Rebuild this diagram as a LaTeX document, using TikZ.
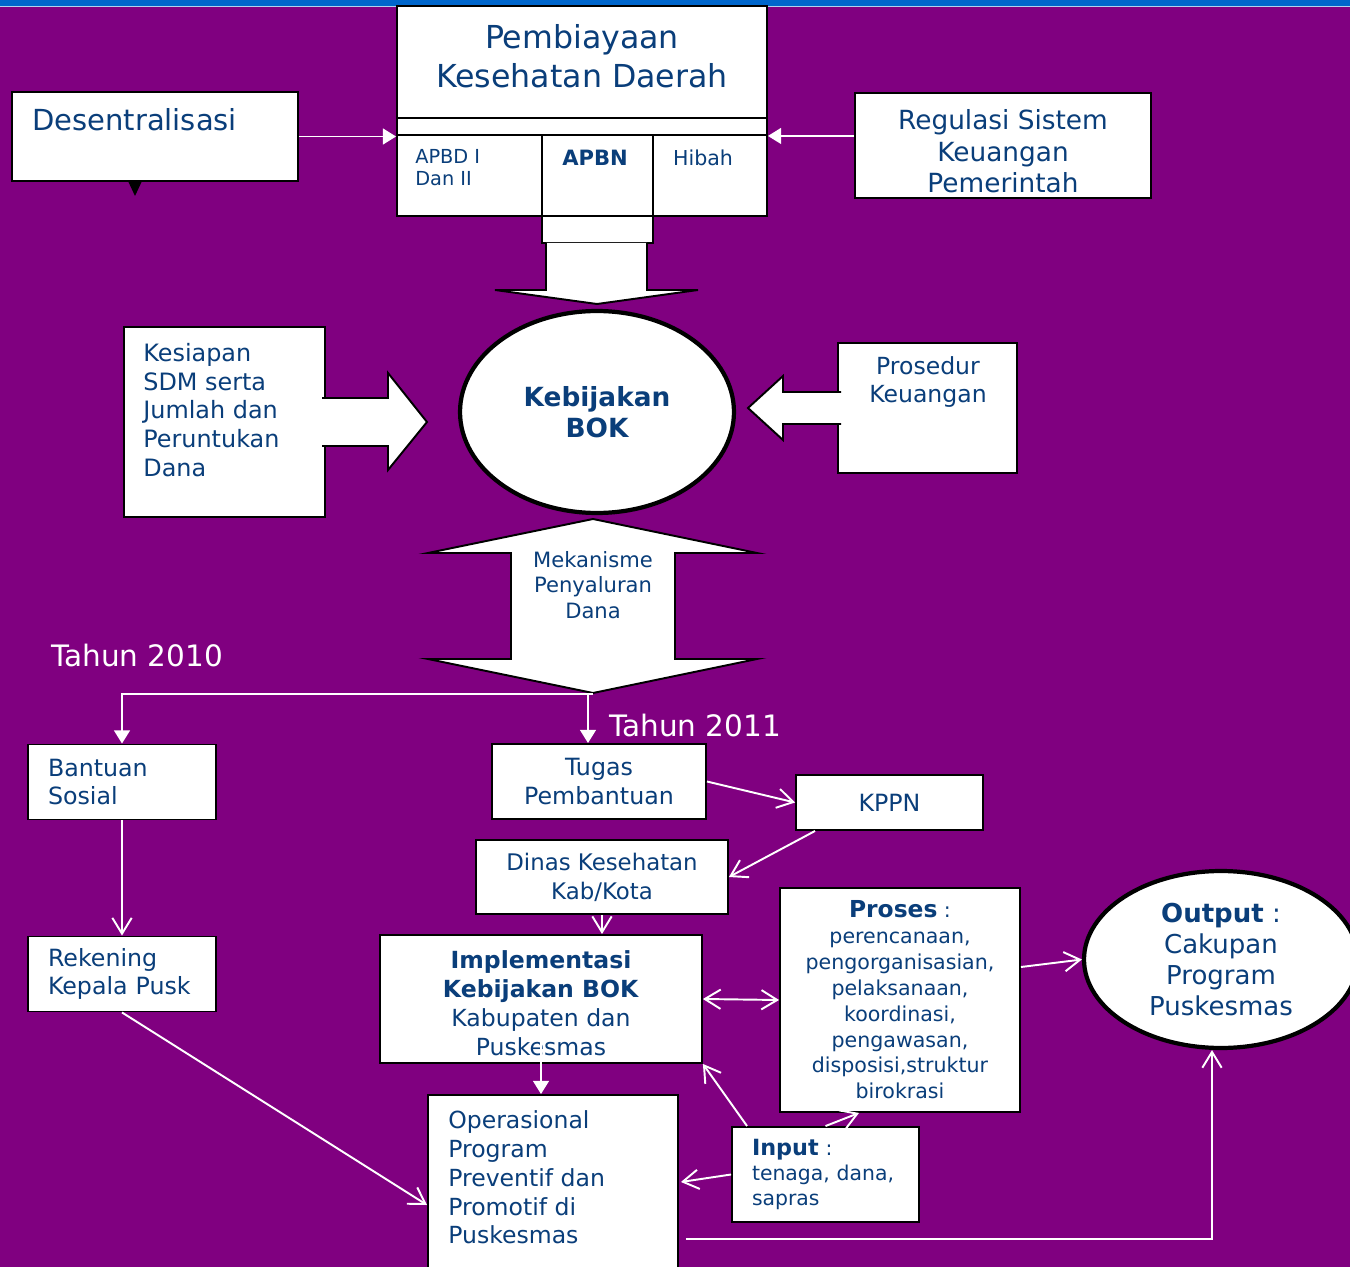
\documentclass[tikz,border=0pt]{standalone}
\usepackage{fontspec}
\setmainfont{DejaVu Sans}
\usetikzlibrary{shapes.geometric,arrows.meta,positioning,calc}
\definecolor{bgpurple}{RGB}{128,0,128}
\definecolor{topblue}{RGB}{0,102,204}
\definecolor{txtblue}{RGB}{10,62,122}
\newcommand{\setfs}[2]{\fontsize{#1}{#2}\selectfont}
\tikzset{
  box/.style={draw=black, fill=white, line width=1.1pt, rectangle, inner sep=0pt, text=txtblue, align=center},
  oval/.style={draw=black, fill=white, line width=2.4pt, ellipse, inner sep=0pt, text=txtblue, align=center},
  lbl/.style={inner sep=0pt, text=txtblue, align=center},
  blockarrow/.style={draw=black, fill=white, line width=1.1pt, line join=miter},
  wline/.style={draw=white, line width=1.1pt},
  tri/.style={-{Triangle[width=9pt,length=7.5pt]}},
  barb/.style={-{Straight Barb[width=11pt,length=9pt]}},
  barbs/.style={{Straight Barb[width=11pt,length=9pt]}-{Straight Barb[width=11pt,length=9pt]}},
}

\begin{document}
\begin{tikzpicture}[x=0.02cm, y=-0.02cm]
  \useasboundingbox (0,0) rectangle (1350,1267);
  \fill[bgpurple] (0,0) rectangle (1350,1267);
  \fill[topblue] (0,0) rectangle (1350,6);
  \draw[white!70!topblue, line width=0.6pt] (0,6.5) -- (1350,6.5);

  % sumber dana
  \node (pemb) [box, minimum width=7.4cm, minimum height=2.24cm] at (582,62) {};
  \node (pembT) [lbl, font=\setfs{18}{22}] at (582,56) {Pembiayaan\\Kesehatan Daerah};
  \node (strip) [box, minimum width=7.4cm, minimum height=0.34cm] at (582,126.5) {};
  \node (apbd) [box, minimum width=2.9cm, minimum height=1.62cm] at (469.5,175.5) {};
  \node (apbn) [box, minimum width=2.22cm, minimum height=1.62cm] at (597.5,175.5) {};
  \node (hibah) [box, minimum width=2.28cm, minimum height=1.62cm] at (710,175.5) {};
  \node (stub) [box, minimum width=2.22cm, minimum height=0.54cm] at (597.5,229.5) {};
  \node (apbdT) [lbl, anchor=west, align=left, font=\setfs{11}{12.5}] at (415,168) {APBD I\\Dan II};
  \node (apbnT) [lbl, font=\setfs{12}{14}\bfseries] at (595,158) {APBN};
  \node (hibahT) [lbl, font=\setfs{11.7}{14}] at (703,158) {Hibah};
  \draw[blockarrow] (546,243) -- (546,290) -- (495,290) -- (597,304) -- (698,290) -- (647,290) -- (647,243);

  \node (des) [box, minimum width=5.72cm, minimum height=1.78cm] at (155,136.5) {};
  \node (desT) [lbl, anchor=west, font=\setfs{16.5}{20}] at (32,120) {Desentralisasi};
  \fill[black] (128,181) -- (142,181) -- (135,196) -- cycle;
  \node (reg) [box, minimum width=5.92cm, minimum height=2.1cm] at (1003,145.5) {};
  \node (regT) [lbl, font=\setfs{15}{18}] at (1003,151.5) {Regulasi Sistem\\Keuangan\\Pemerintah};

  \draw[wline, tri] (des.east) -- (des.east -| pemb.west);
  \draw[wline, tri] (reg.west |- strip.south) -- (strip.south east);

  % kebijakan
  \node (bok) [oval, minimum width=5.48cm, minimum height=4.04cm, font=\setfs{15}{18}\bfseries] at (597,412) {Kebijakan\\BOK};

  \node (kes) [box, minimum width=4.02cm, minimum height=3.8cm] at (224.5,422) {};
  \node (kesT) [lbl, anchor=west, align=left, font=\setfs{13.6}{16.4}] at (143,410) {Kesiapan\\SDM serta\\Jumlah dan\\Peruntukan\\Dana};
  \path[blockarrow] (322,398) -- (388,398) -- (388,373) -- (427,422) -- (388,470) -- (388,446) -- (322,446);

  \node (pros) [box, minimum width=3.58cm, minimum height=2.6cm] at (927.5,408) {};
  \node (prosT) [lbl, font=\setfs{13.4}{16}] at (928,382) {Prosedur\\Keuangan};
  \path[blockarrow] (841,392) -- (783,392) -- (783,376) -- (748,408) -- (783,440) -- (783,424) -- (841,424);

  \draw[blockarrow] (593,519) -- (757,553) -- (675,553) -- (675,659) -- (757,659) -- (593,693) -- (428,659) -- (511,659) -- (511,553) -- (428,553) -- cycle;
  \node (mekT) [lbl, font=\setfs{12}{14.7}] at (593,585) {Mekanisme\\Penyaluran\\Dana};

  \node (th2010) [lbl, text=white, font=\setfs{16.8}{20}] at (137,655) {Tahun 2010};
  \node (th2011) [lbl, text=white, font=\setfs{16.8}{20}] at (695,725) {Tahun 2011};

  % penyaluran
  \node (bantuan) [box, minimum width=3.76cm, minimum height=1.5cm, text width=2.96cm, align=left, font=\setfs{13.5}{16.4}] at (122,782) {Bantuan\\Sosial};
  \node (rek) [box, minimum width=3.76cm, minimum height=1.5cm, text width=2.96cm, align=left, font=\setfs{13.5}{16.4}] at (122,974) {Rekening\\Kepala Pusk};
  \node (tugas) [box, minimum width=4.28cm, minimum height=1.5cm, font=\setfs{13.5}{16.4}] at (599,781.5) {Tugas\\Pembantuan};
  \node (kppn) [box, minimum width=3.74cm, minimum height=1.1cm, font=\setfs{13.5}{16.4}] at (889.5,802.5) {KPPN};
  \node (dinas) [box, minimum width=5.04cm, minimum height=1.48cm, font=\setfs{13}{16.4}] at (602,877) {Dinas Kesehatan\\Kab/Kota};
  \node (impl) [box, minimum width=6.44cm, minimum height=2.56cm] at (541,999) {};
  \node (implT) [lbl, font=\setfs{13.4}{16.4}] at (541,1003) {\textbf{Implementasi}\\\textbf{Kebijakan BOK}\\Kabupaten dan\\Puskesmas};
  \node (oper) [box, minimum width=5cm, minimum height=3.6cm] at (553,1185) {};
  \node (operT) [lbl, anchor=west, align=left, font=\setfs{13.4}{16.4}] at (448,1177.5) {Operasional\\Program\\Preventif dan\\Promotif di\\Puskesmas};
  \node (proc) [box, minimum width=4.8cm, minimum height=4.48cm, font=\setfs{11.7}{14.7}] at (900,1000) {{\setfs{13.3}{14.7}\textbf{Proses}} :\\perencanaan,\\pengorganisasian,\\pelaksanaan,\\koordinasi,\\pengawasan,\\disposisi,struktur\\birokrasi};
  \node (outp) [oval, minimum width=5.48cm, minimum height=3.54cm, font=\setfs{14.8}{17.6}] at (1221,959.5) {\textbf{Output} :\\Cakupan\\Program\\Puskesmas};
  \node (inp) [box, minimum width=3.74cm, minimum height=1.9cm, text width=2.94cm, align=left, font=\setfs{11.6}{14.2}] at (825.5,1174.5) {{\setfs{12.7}{14.2}\textbf{Input}} :\\tenaga, dana,\\sapras};

  \coordinate (mektip) at (593,694);
  \coordinate (fork) at (588,694);
  \draw[wline, tri] (mektip) -| (bantuan.north);
  \draw[wline, tri] (fork) -- (fork |- tugas.north);
  \draw[wline, barb] (bantuan) -- (rek);
  \draw[wline, barb] (tugas.east) -- (kppn.west);
  \draw[wline, barb] ([shift={(20,0)}]kppn.south west) -- (dinas.east);
  \draw[wline, barb] (dinas.south) -- (dinas.south |- impl.north);
  \draw[wline, tri] ([shift={(0,-22)}]impl.south) -- (impl.south |- oper.north);
  \draw[wline, barb] (rek.south) -- ([shift={(0,20)}]oper.west);
  \draw[wline, barbs] (impl.east) -- (proc.west);
  \draw[wline, barb] ([shift={(0,-33)}]proc.east) -- (outp.west);
  \draw[wline, barb] ([shift={(16,0)}]inp.north west) -- (impl.south east);
  \draw[wline, barb] (inp.north) -- ([shift={(-41,0)}]proc.south);
  \draw[wline, barb] (inp.west) -- ([shift={(2,-3)}]oper.east);
  \draw[wline, barb] ([shift={(7,54)}]oper.east) -| ([shift={(-9,0)}]outp.south);
\end{tikzpicture}
\end{document}
